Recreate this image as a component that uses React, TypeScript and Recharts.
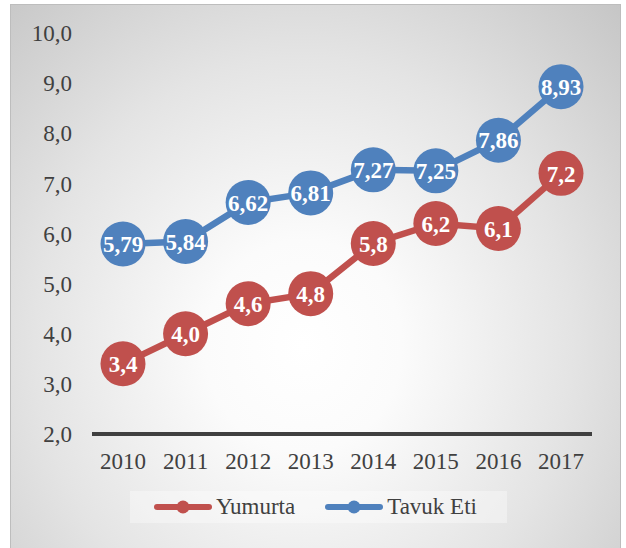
import { LineChart, Line, XAxis, YAxis, LabelList, Legend } from 'recharts';

// Yumurta / Tavuk Eti line chart, 2010-2017

const years = ['2010', '2011', '2012', '2013', '2014', '2015', '2016', '2017'];
const yumurta = [3.4, 4.0, 4.6, 4.8, 5.8, 6.2, 6.1, 7.2];
const tavukEti = [5.79, 5.84, 6.62, 6.81, 7.27, 7.25, 7.86, 8.93];
const yTicks = [2, 3, 4, 5, 6, 7, 8, 9, 10];

const data = years.map((year, i) => ({
  year,
  yumurta: yumurta[i],
  tavukEti: tavukEti[i],
}));

const RED = '#C0504D';
const BLUE = '#4F81BD';
const FONT = 'Times New Roman, Liberation Serif, DejaVu Serif, serif';

const comma = (v: number, digits: number) => v.toFixed(digits).replace('.', ',');

function bigDot(color: string) {
  return (props: any) => {
    const { cx, cy, index } = props;
    if (cx == null || cy == null) return null;
    return <circle key={`dot-${index}`} cx={cx} cy={cy} r={22.5} fill={color} />;
  };
}

function renderLegend() {
  const items = [
    { name: 'Yumurta', color: RED },
    { name: 'Tavuk Eti', color: BLUE },
  ];
  return (
    <div
      style={{
        display: 'flex',
        alignItems: 'center',
        height: 32,
        paddingLeft: 24,
        background: 'rgba(255,255,255,0.35)',
        fontFamily: FONT,
        fontSize: 23,
        color: '#404040',
      }}
    >
      {items.map((it, i) => (
        <div key={it.name} style={{ display: 'flex', alignItems: 'center', marginRight: i === 0 ? 30 : 0 }}>
          <svg width={58} height={20} style={{ marginRight: 4 }}>
            <line x1={3} y1={10} x2={55} y2={10} stroke={it.color} strokeWidth={6} strokeLinecap="round" />
            <circle cx={29} cy={10} r={6.5} fill={it.color} />
          </svg>
          <span>{it.name}</span>
        </div>
      ))}
    </div>
  );
}

export default function App() {
  return (
    <div style={{ position: 'absolute', left: 0, top: 0, width: 626, height: 548, background: '#fff', fontFamily: FONT }}>
      <div
        style={{
          position: 'absolute',
          left: 10,
          top: 4,
          width: 609,
          height: 550,
          border: '1px solid #bdbdbd',
          background:
            'radial-gradient(farthest-corner at 48% 62%, #ffffff 0%, #fbfbfb 22%, #e4e4e4 60%, #c6c6c6 100%)',
        }}
      />
      <LineChart
        width={626}
        height={548}
        data={data}
        margin={{ top: 33, right: 34, left: 12, bottom: 52 }}
        style={{ position: 'absolute', left: 0, top: 0 }}
      >
        <XAxis
          dataKey="year"
          padding={{ left: 31, right: 31 }}
          axisLine={{ stroke: '#404040', strokeWidth: 4 }}
          tickLine={false}
          tickSize={0}
          tickMargin={19}
          height={30}
          tick={{ fill: '#404040', fontSize: 23, fontFamily: FONT }}
        />
        <YAxis
          domain={[2, 10]}
          ticks={yTicks}
          interval={0}
          width={80}
          axisLine={false}
          tickLine={false}
          tickSize={0}
          tickMargin={20}
          tickFormatter={(v: number) => comma(v, 1)}
          tick={{ fill: '#404040', fontSize: 23, fontFamily: FONT }}
        />
        <Legend
          content={renderLegend}
          wrapperStyle={{ left: 130, top: 491, width: 377, height: 32 }}
        />
        <Line
          dataKey="yumurta"
          name="Yumurta"
          stroke={RED}
          strokeWidth={6.5}
          dot={bigDot(RED)}
          activeDot={false}
          isAnimationActive={false}
        >
          <LabelList
            dataKey="yumurta"
            position="center"
            formatter={(v: any) => comma(Number(v), 1)}
            style={{ fill: '#fff', fontSize: 23, fontWeight: 700, fontFamily: FONT }}
          />
        </Line>
        <Line
          dataKey="tavukEti"
          name="Tavuk Eti"
          stroke={BLUE}
          strokeWidth={6.5}
          dot={bigDot(BLUE)}
          activeDot={false}
          isAnimationActive={false}
        >
          <LabelList
            dataKey="tavukEti"
            position="center"
            formatter={(v: any) => comma(Number(v), 2)}
            style={{ fill: '#fff', fontSize: 23, fontWeight: 700, fontFamily: FONT }}
          />
        </Line>
      </LineChart>
    </div>
  );
}
